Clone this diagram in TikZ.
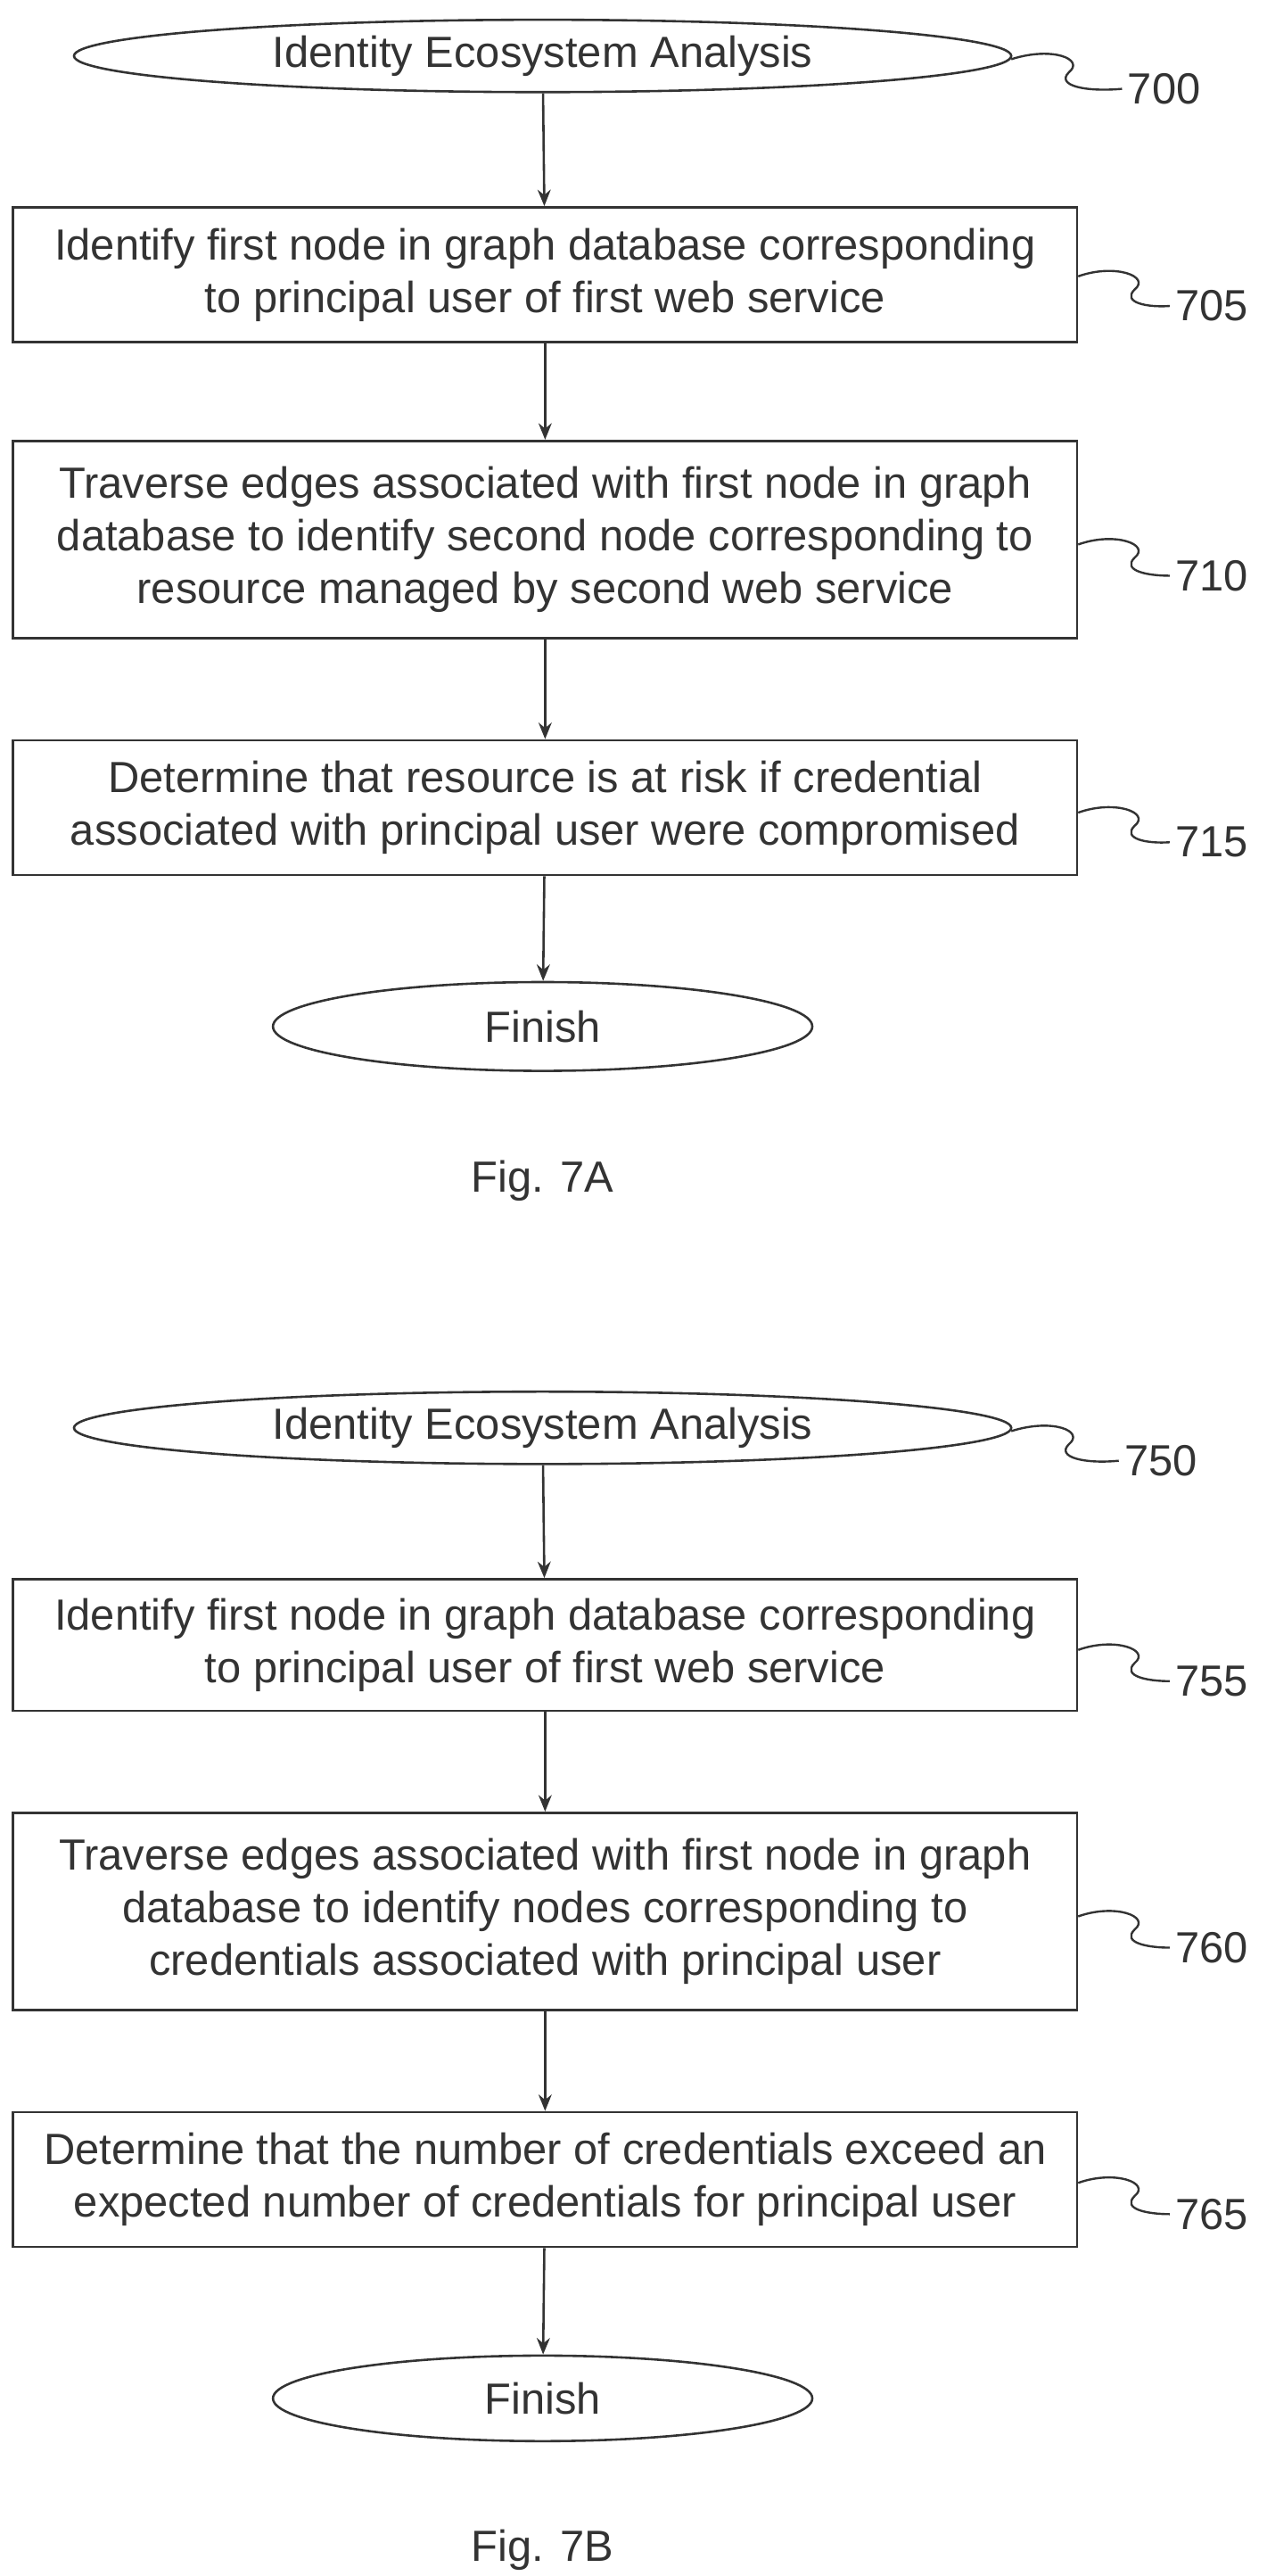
\documentclass[tikz,border=0pt]{standalone}
\usepackage{fontspec}
\setmainfont{Liberation Sans}
\usetikzlibrary{shapes.geometric,arrows.meta}
\begin{document}
\begin{tikzpicture}[x=1pt,y=-1pt,
 every node/.style={font=\fontsize{26.5}{32}\selectfont, text=black!80},
 box/.style={draw=black!80, line width=1.4pt, minimum width=647pt, align=center, inner sep=0pt},
 ell/.style={draw=black!80, line width=1.4pt, ellipse, inner sep=0pt},
 arr/.style={-{Stealth[length=10pt,width=8pt]}, line width=1.4pt, draw=black!80},
 sq/.style={line width=1.3pt, draw=black!80}]
\useasboundingbox (0,0) rectangle (770,1566);
% Fig 7A
\node[ell, minimum width=570pt, minimum height=44pt] (s1) at (330,34) {Identity Ecosystem Analysis};
\node[box, minimum height=82pt] (b705) at (331.5,167) {Identify first node in graph database corresponding\\to principal user of first web service};
\node[box, minimum height=120pt] (b710) at (331.5,328) {Traverse edges associated with first node in graph\\database to identify second node corresponding to\\resource managed by second web service};
\node[box, minimum height=82pt] (b715) at (331.5,491) {Determine that resource is at risk if credential\\associated with principal user were compromised};
\node[ell, minimum width=328pt, minimum height=54pt] (f1) at (330,624) {Finish};
\node (fa) at (330,718) {Fig. 7A};
\draw[arr] (s1) -- (b705);
\draw[arr] (b705) -- (b710);
\draw[arr] (b710) -- (b715);
\draw[arr] (b715) -- (f1);
\node (l700) at (708,54) {700};
\node (l705) at (737,186) {705};
\node (l710) at (737,350) {710};
\node (l715) at (737,512) {715};
\draw[sq] (615,36) .. controls (640,28) and (660,36) .. (650,44) .. controls (642,52) and (660,56) .. (l700.west);
% Fig 7B
\node[ell, minimum width=570pt, minimum height=44pt] (s2) at (330,868) {Identity Ecosystem Analysis};
\node[box, minimum height=80pt] (b755) at (331.5,1000) {Identify first node in graph database corresponding\\to principal user of first web service};
\node[box, minimum height=120pt] (b760) at (331.5,1162) {Traverse edges associated with first node in graph\\database to identify nodes corresponding to\\credentials associated with principal user};
\node[box, minimum height=82pt] (b765) at (331.5,1325) {Determine that the number of credentials exceed an\\expected number of credentials for principal user};
\node[ell, minimum width=328pt, minimum height=52pt] (f2) at (330,1458) {Finish};
\node (fb) at (330,1550) {Fig. 7B};
\draw[arr] (s2) -- (b755);
\draw[arr] (b755) -- (b760);
\draw[arr] (b760) -- (b765);
\draw[arr] (b765) -- (f2);
\node (l750) at (706,888) {750};
\node (l755) at (737,1022) {755};
\node (l760) at (737,1184) {760};
\node (l765) at (737,1346) {765};
\draw[sq] (615,870) .. controls (640,862) and (660,870) .. (650,878) .. controls (642,886) and (660,890) .. (l750.west);
\foreach \b/\l/\y in {b705/l705/168,b710/l710/331,b715/l715/494,b755/l755/1003,b760/l760/1165,b765/l765/1327}{
 \draw[sq] (\b.east |- 0,\y) .. controls (678,\y-8) and (700,\y) .. (690,\y+8) .. controls (682,\y+16) and (698,\y+19) .. (\l.west);
}
\end{tikzpicture}
\end{document}
